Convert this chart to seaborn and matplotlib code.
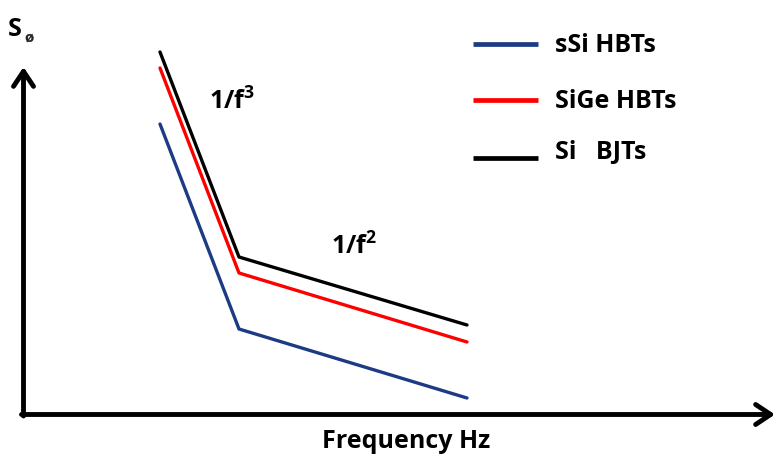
import matplotlib
matplotlib.use("Agg")
import matplotlib.pyplot as plt
import seaborn as sns
import pandas as pd

# Phase-noise spectrum sketch: corner between 1/f^3 and 1/f^2 regions
frequency = [160, 239, 467]
ssi_hbt = [334, 129, 60]
sige_hbt = [390, 185, 116]
si_bjt = [406, 201, 133]
devices = ["sSi HBTs", "SiGe HBTs", "Si   BJTs"]
colors = ["#1c3b84", "#ff0000", "#000000"]

df = pd.concat([
    pd.DataFrame({"freq": frequency, "noise": vals, "device": name})
    for vals, name in zip([ssi_hbt, sige_hbt, si_bjt], devices)
])

sns.set_theme(style="white")
plt.rcParams["font.family"] = ["Open Sans", "DejaVu Sans"]
plt.rcParams["mathtext.fontset"] = "custom"
plt.rcParams["mathtext.bf"] = "Open Sans:bold"
plt.rcParams["mathtext.rm"] = "Open Sans:bold"

fig = plt.figure(figsize=(7.79, 4.58), dpi=100)
ax = fig.add_axes([0, 0, 1, 1])
sns.lineplot(data=df, x="freq", y="noise", hue="device", hue_order=devices,
             palette=dict(zip(devices, colors)), linewidth=2.4, ax=ax,
             legend=False)
ax.set_xlim(0, 779)
ax.set_ylim(0, 458)
ax.axis("off")

# Arrow axes
arrow = dict(arrowstyle="->,head_length=0.9,head_width=0.6", lw=3.5, color="black",
             shrinkA=0, shrinkB=0)
ax.annotate("", xy=(23.5, 391), xytext=(23.5, 42), arrowprops=arrow)
ax.annotate("", xy=(775, 43.5), xytext=(21.5, 43.5), arrowprops=arrow)

txt = dict(fontsize=18, fontweight="bold", color="black")

# Legend drawn as line samples with labels
legend_y = [414, 358, 300]
text_y = [413, 357, 306]
for ly, ty, name, c in zip(legend_y, text_y, devices, colors):
    ax.plot([473, 538], [ly, ly], color=c, lw=3.4, solid_capstyle="butt")
    ax.text(555, ty, name, va="center", ha="left", **txt)

ax.text(8, 428, "S", va="center", **txt)
ax.text(24, 420, "ø", va="center", fontsize=11, fontweight="bold")
ax.text(209, 356, r"$\mathbf{1/f^{3}}$", va="center", **txt)
ax.text(331, 211, r"$\mathbf{1/f^{2}}$", va="center", **txt)
ax.text(406, 16, "Frequency Hz", va="center", ha="center", **txt)

fig.savefig("out.png", dpi=100)
